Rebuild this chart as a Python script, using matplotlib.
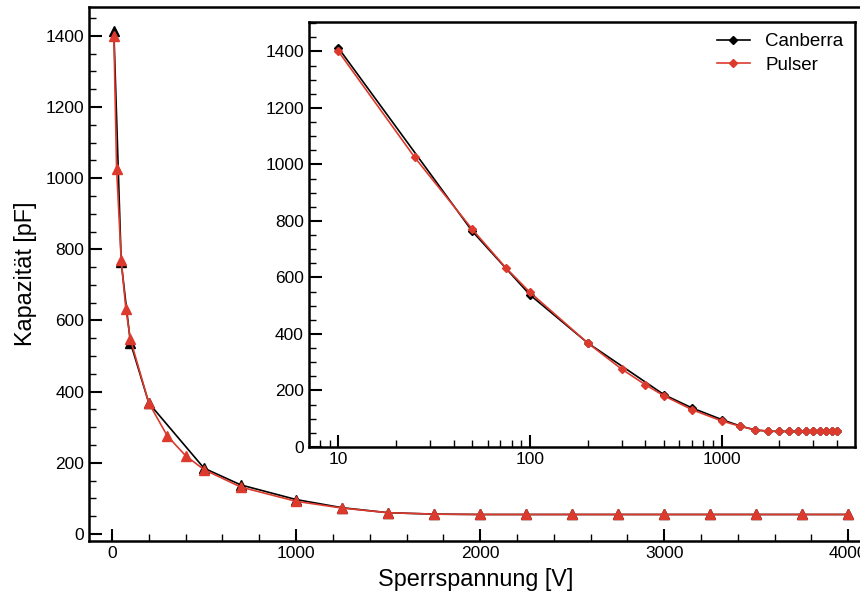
import numpy as np
import matplotlib.pyplot as plt
from matplotlib.ticker import MultipleLocator, FixedLocator, FuncFormatter, LogLocator, NullFormatter

plt.rcParams['font.family'] = ['Liberation Sans', 'DejaVu Sans']

# Canberra (Kapazitätsmessgerät)
u_canberra = [10, 50, 100, 200, 500, 700, 1000, 1250, 1500, 1750, 2000, 2250,
              2500, 2750, 3000, 3250, 3500, 3750, 4000]
c_canberra = [1412, 763, 538, 368, 185, 138, 97, 74, 60, 56, 55, 55,
              55, 55, 55, 55, 55, 55, 55]

# Pulser
u_pulser = [10, 25, 50, 75, 100, 200, 300, 400, 500, 700, 1000, 1250, 1500,
            1750, 2000, 2250, 2500, 2750, 3000, 3250, 3500, 3750, 4000]
c_pulser = [1400, 1025, 770, 633, 547, 368, 276, 220, 181, 132, 92, 73, 60,
            56, 55, 55, 55, 55, 55, 55, 55, 55, 55]

red = '#dd3a2e'

fig = plt.figure(figsize=(8.6, 6.04), dpi=100)

def style(ax):
    for s in ax.spines.values():
        s.set_linewidth(1.8)
    ax.tick_params(which='both', direction='in', top=False, right=False,
                   labelsize=12.5, width=1.5)
    ax.tick_params(which='major', length=9)
    ax.tick_params(which='minor', length=5, width=1.0)

ax = fig.add_axes([0.1035, 0.104, 0.9, 0.884])
ax.plot(u_canberra, c_canberra, color='black', lw=1.2, marker='^', ms=7.5, label='Canberra')
ax.plot(u_pulser, c_pulser, color=red, lw=1.2, marker='^', ms=7.5, label='Pulser')
ax.set_xlim(-125, 4080)
ax.set_ylim(-20, 1480)
ax.xaxis.set_major_locator(MultipleLocator(1000))
ax.xaxis.set_minor_locator(MultipleLocator(200))
ax.yaxis.set_major_locator(MultipleLocator(200))
ax.yaxis.set_minor_locator(MultipleLocator(50))
ax.set_xlabel('Sperrspannung [V]', fontsize=16.8, labelpad=5)
ax.set_ylabel('Kapazität [pF]', fontsize=16.8, labelpad=6)
style(ax)

# Inset mit logarithmischer x-Achse
ins = fig.add_axes([0.359, 0.26, 0.635, 0.704])
ins.plot(u_canberra, c_canberra, color='black', lw=1.2, marker='D', ms=4.5, label='Canberra')
ins.plot(u_pulser, c_pulser, color=red, lw=1.2, marker='D', ms=4.5, label='Pulser')
ins.set_xscale('log')
ins.set_xlim(7, 4950)
ins.set_ylim(0, 1505)
ins.xaxis.set_major_locator(FixedLocator([10, 100, 1000]))
ins.xaxis.set_major_formatter(FuncFormatter(lambda v, p: '%d' % v))
ins.xaxis.set_minor_locator(LogLocator(base=10, subs=np.arange(2, 10)))
ins.xaxis.set_minor_formatter(NullFormatter())
ins.yaxis.set_major_locator(MultipleLocator(200))
ins.yaxis.set_minor_locator(MultipleLocator(50))
style(ins)
ins.legend(loc='upper right', frameon=False, fontsize=13.5, handlelength=1.8,
           borderaxespad=0.2, labelspacing=0.35)

fig.savefig('out.png', dpi=100)
